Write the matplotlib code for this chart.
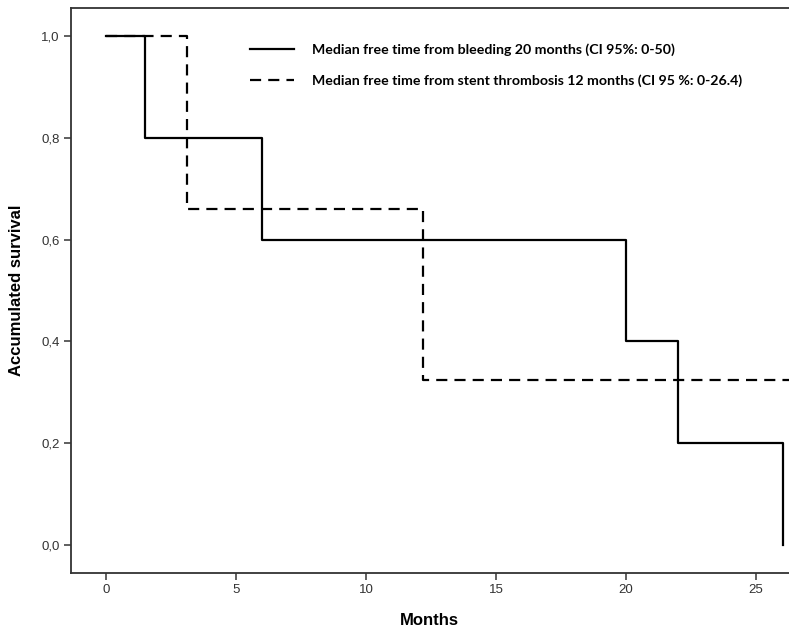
import matplotlib
matplotlib.use("Agg")
import matplotlib.pyplot as plt
from matplotlib.lines import Line2D

# Kaplan-Meier steps
bleed_t = [0, 1.5, 6, 20, 22, 26.05]
bleed_s = [1.0, 0.8, 0.6, 0.4, 0.2, 0.0]

stent_t = [0, 3.1, 12.2, 26.5]
stent_s = [1.0, 0.66, 0.325, 0.325]

x_ticks = [0, 5, 10, 15, 20, 25]
y_ticks = [0.0, 0.2, 0.4, 0.6, 0.8, 1.0]
y_labels = ["0,0", "0,2", "0,4", "0,6", "0,8", "1,0"]

bleed_label = "Median free time from bleeding 20 months (CI 95%: 0-50)"
stent_label = "Median free time from stent thrombosis 12 months (CI 95 %: 0-26.4)"

fig = plt.figure(figsize=(7.89, 6.33), dpi=100)
ax = fig.add_axes([0.0894, 0.0948, 0.9106, 0.8922])

ax.step(bleed_t, bleed_s, where="post", color="black", lw=1.6)
ax.step(stent_t, stent_s, where="post", color="black", lw=1.6,
        linestyle=(0, (5, 3.2)))

ax.set_xlim(-1.36, 26.27)
ax.set_ylim(-0.055, 1.055)
ax.set_xticks(x_ticks)
ax.set_yticks(y_ticks)
ax.set_yticklabels(y_labels)

for s in ["left", "bottom", "top"]:
    ax.spines[s].set_linewidth(1.3)
    ax.spines[s].set_color("#333333")
ax.spines["right"].set_visible(False)

ax.tick_params(direction="out", length=5, width=1.2, color="#444444",
               labelsize=9.5, labelcolor="#333333", pad=3)
for lab in ax.get_xticklabels() + ax.get_yticklabels():
    lab.set_family("Liberation Sans")

ax.set_xlabel("Months", fontsize=12, fontweight="bold", family="Liberation Sans",
              labelpad=12)
ax.set_ylabel("Accumulated survival", fontsize=12, fontweight="bold",
              family="Liberation Sans", labelpad=12)

handles = [Line2D([], [], color="black", lw=1.6),
           Line2D([], [], color="black", lw=1.6, linestyle=(0, (5, 3.2)))]
ax.legend(handles, [bleed_label, stent_label], loc="upper left",
          bbox_to_anchor=(0.232, 0.96), frameon=False, handlelength=3.1,
          handletextpad=1.3, labelspacing=1.25,
          prop={"family": "Lato", "weight": "bold", "size": 10.2})

fig.savefig("out.png", dpi=100)
